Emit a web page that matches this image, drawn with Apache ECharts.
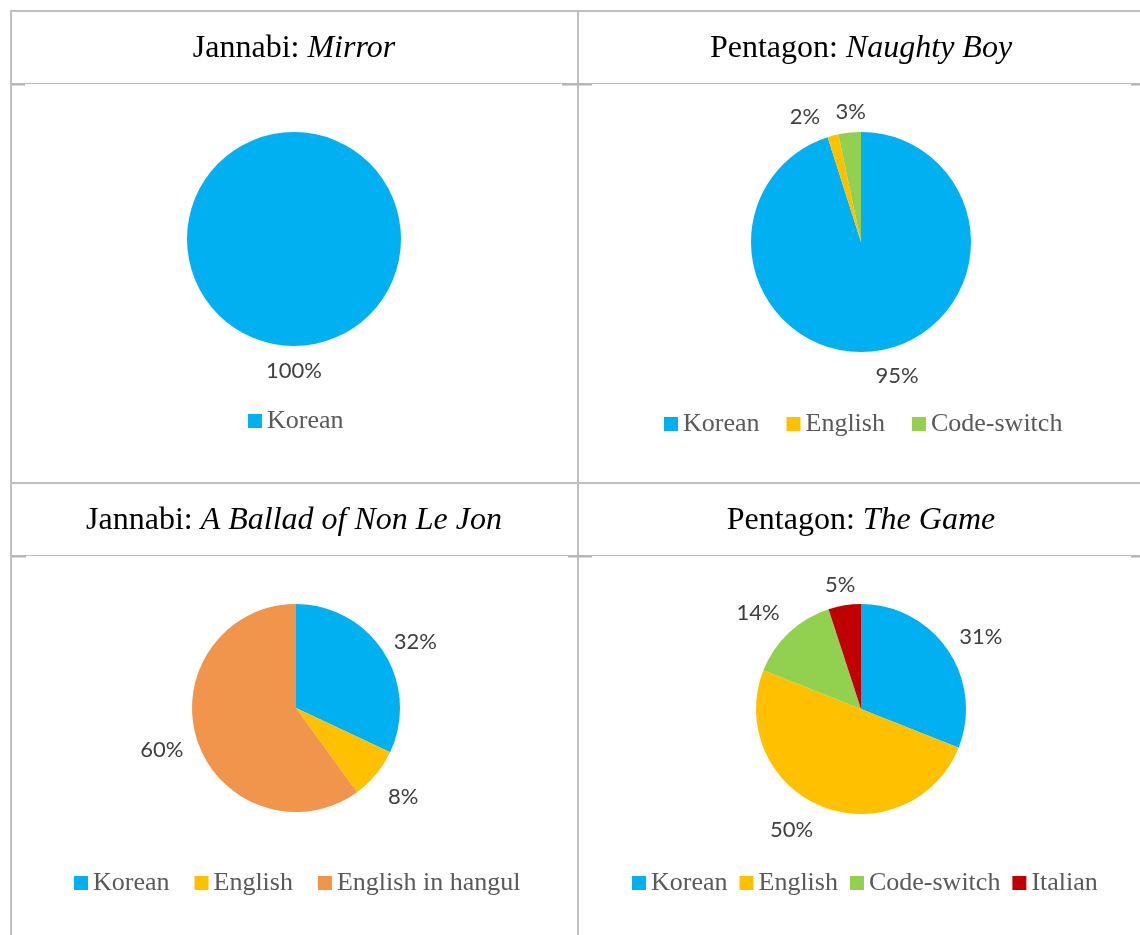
<!DOCTYPE html>
<html>
<head>
<meta charset="utf-8">
<title>Jannabi / Pentagon lyrics by language</title>
<script src="https://cdn.jsdelivr.net/npm/echarts@6/dist/echarts.min.js"></script>
<style>
  html, body { margin: 0; padding: 0; background: #fff; }
  #main { width: 1140px; height: 935px; }
</style>
</head>
<body>
<div id="main"></div>
<script>
// share of lyrics per language, one pie per song
const mirrorNames = ['Korean']
const mirrorValues = [100]
const naughtyNames = ['Korean', 'English', 'Code-switch']
const naughtyValues = [95.1, 1.6, 3.3]
const balladNames = ['Korean', 'English', 'English in hangul']
const balladValues = [32, 8, 60]
const gameNames = ['Korean', 'English', 'Code-switch', 'Italian']
const gameValues = [31, 50, 14, 5]

const colors = {
  'Korean': '#00b0f0',
  'English': '#ffc000',
  'Code-switch': '#92d050',
  'Italian': '#c00000',
  'English in hangul': '#f0954b'
}

// small pixel nudges so the % labels sit where the original (Excel) put them
const mirrorNudge = [[0, 0]]
const naughtyNudge = [[15, -2], [-21, 8], [4, 7]]
const balladNudge = [[2, 8], [0, 0], [-2, -1]]
const gameNudge = [[4, 7], [-18, -9], [-7, 6], [1, 14]]

const lineColor = '#bfbfbf'
const serif = '"Liberation Serif", "Times New Roman", serif'

function toData(names, values, withColor) {
  return names.map((n, i) => {
    let item = { name: n, value: values[i] }
    if (withColor) item.itemStyle = { color: colors[n] }
    return item
  })
}

function pieSeries(names, values, center, r) {
  return {
    type: 'pie',
    center: center,
    radius: r,
    startAngle: 90,
    clockwise: true,
    silent: true,
    label: { show: false },
    labelLine: { show: false },
    itemStyle: { borderWidth: 0 },
    data: toData(names, values, true)
  }
}

// transparent ring just outside the pie, only used to carry the % labels
function labelRing(names, values, center, r, gap, nudge) {
  return {
    type: 'pie',
    center: center,
    radius: [r, r + gap * 2],
    startAngle: 90,
    clockwise: true,
    silent: true,
    avoidLabelOverlap: false,
    itemStyle: { color: 'rgba(0,0,0,0)' },
    label: {
      show: true,
      position: 'inside',
      formatter: p => Math.round(p.percent) + '%',
      fontFamily: 'Lato, "Open Sans", sans-serif',
      fontSize: 22,
      color: '#404040'
    },
    labelLine: { show: false },
    labelLayout: function (params) {
      let n = nudge[params.dataIndex] || [0, 0]
      return { dx: n[0], dy: n[1], hideOverlap: false }
    },
    data: toData(names, values, false)
  }
}

function legendFor(names, left, top, gap) {
  return {
    left: left,
    top: top,
    width: 540,
    padding: 0,
    icon: 'rect',
    itemWidth: 14,
    itemHeight: 14,
    itemGap: gap,
    selectedMode: false,
    textStyle: { fontFamily: serif, fontSize: 26, lineHeight: 26, color: '#595959' },
    data: names.map(n => ({ name: n, itemStyle: { color: colors[n] } }))
  }
}

function titleText(x, y, band, song) {
  return {
    type: 'text',
    x: x,
    y: y,
    silent: true,
    style: {
      text: '{n|' + band + ': }{i|' + song + '}',
      align: 'center',
      verticalAlign: 'middle',
      rich: {
        n: { fontFamily: serif, fontSize: 32, color: '#000' },
        i: { fontFamily: serif, fontSize: 32, fontStyle: 'italic', color: '#000' }
      }
    }
  }
}

function rule(x1, y1, x2, y2, w, c) {
  return {
    type: 'line',
    silent: true,
    shape: { x1: x1, y1: y1, x2: x2, y2: y2 },
    style: { stroke: c || lineColor, lineWidth: w }
  }
}

const tableLines = [
  rule(10, 11, 1140, 11, 2),
  rule(10, 83.5, 1140, 83.5, 1),
  rule(10, 483, 1140, 483, 2),
  rule(10, 555.5, 1140, 555.5, 1),
  rule(11, 10, 11, 935, 2),
  rule(578, 10, 578, 935, 2),
  // little chart-frame stubs under the header rows
  rule(12, 84.5, 25, 84.5, 2, '#b3b3b3'),
  rule(562, 84.5, 592, 84.5, 2, '#b3b3b3'),
  rule(1131, 84.5, 1140, 84.5, 2, '#b3b3b3'),
  rule(12, 556.5, 26, 556.5, 2, '#b3b3b3'),
  rule(568, 556.5, 592, 556.5, 2, '#b3b3b3'),
  rule(1131, 556.5, 1140, 556.5, 2, '#b3b3b3')
]

const chart = echarts.init(document.getElementById('main'), null, { renderer: 'canvas' })

chart.setOption({
  animation: false,
  backgroundColor: '#fff',
  legend: [
    legendFor(mirrorNames, 248, 408, 27),
    legendFor(naughtyNames, 664, 411, 27),
    legendFor(balladNames, 74, 870, 25),
    legendFor(gameNames, 632, 870, 12)
  ],
  graphic: tableLines.concat([
    titleText(294, 49, 'Jannabi', 'Mirror'),
    titleText(861, 49, 'Pentagon', 'Naughty Boy'),
    titleText(294, 521, 'Jannabi', 'A Ballad of Non Le Jon'),
    titleText(861, 521, 'Pentagon', 'The Game')
  ]),
  series: [
    pieSeries(mirrorNames, mirrorValues, [294, 239], 107),
    pieSeries(naughtyNames, naughtyValues, [861, 242], 110),
    pieSeries(balladNames, balladValues, [296, 708], 104),
    pieSeries(gameNames, gameValues, [861, 709], 105),
    labelRing(mirrorNames, mirrorValues, [294, 239], 107, 22, mirrorNudge),
    labelRing(naughtyNames, naughtyValues, [861, 242], 110, 25, naughtyNudge),
    labelRing(balladNames, balladValues, [296, 708], 104, 32, balladNudge),
    labelRing(gameNames, gameValues, [861, 709], 105, 32, gameNudge)
  ]
})
</script>
</body>
</html>
